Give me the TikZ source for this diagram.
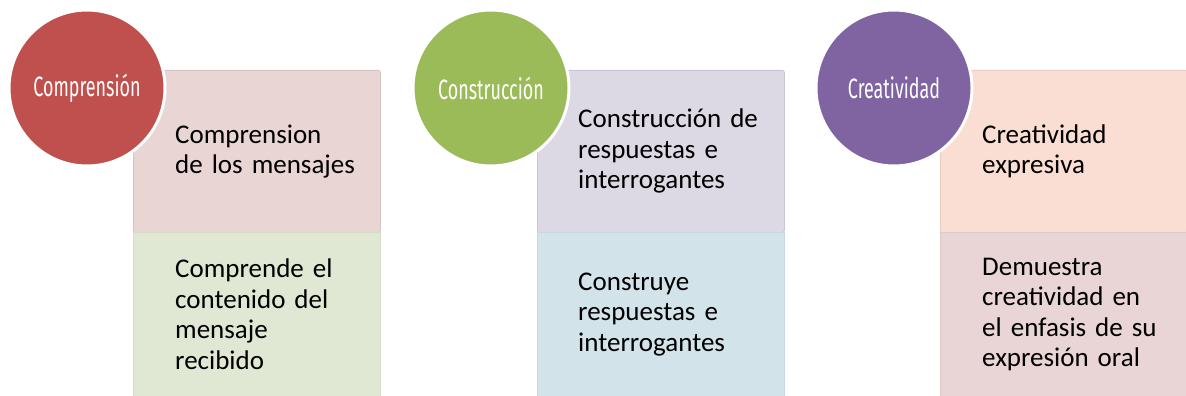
\documentclass[tikz,border=0pt]{standalone}
\usepackage{fontspec}
\setmainfont{Carlito}
\newfontfamily\headfont{Fira Sans}
\definecolor{cred}{HTML}{C0504D}
\definecolor{cgreen}{HTML}{9BBB59}
\definecolor{cpurple}{HTML}{8064A2}
\definecolor{boxA}{HTML}{E9D5D4}
\definecolor{boxB}{HTML}{E0E8D3}
\definecolor{boxC}{HTML}{DCD8E4}
\definecolor{boxD}{HTML}{D3E3EA}
\definecolor{boxE}{HTML}{FBDED3}
\definecolor{boxF}{HTML}{E9D5D6}
\begin{document}
\begin{tikzpicture}[x=1pt,y=-1pt,
  panel/.style={rectangle, anchor=north west, minimum width=247pt, inner sep=0pt, line width=0.8pt},
  bodytext/.style={anchor=west, align=left, inner sep=0pt, text width=230pt,
    font=\fontsize{27}{30.5}\selectfont, text=black},
  headcircle/.style={circle, minimum size=156pt, inner sep=0pt, draw=white, line width=3pt, text=white,
    font=\headfont\fontsize{28}{30}\selectfont}]
\useasboundingbox (0,0) rectangle (1186,396);
\fill[white] (0,0) rectangle (1186,396);
% group 1
\node[panel, minimum height=162pt, fill=boxA, draw=boxA!92!black, rounded corners=2pt] (t1) at (133,70) {};
\node[panel, minimum height=164pt, fill=boxB, draw=boxB!95!black] (b1) at (133,232) {};
\node[bodytext] (t1txt) at ([xshift=42pt]t1.west) {Comprension\\de los mensajes};
\node[bodytext] (b1txt) at ([xshift=42pt]b1.west) {Comprende el\\contenido del\\mensaje\\recibido};
\node[headcircle, fill=cred] (c1) at (87,88) {\scalebox{0.64}[1]{Comprensión}};
% group 2
\node[panel, minimum height=162pt, fill=boxC, draw=boxC!92!black, rounded corners=2pt] (t2) at (537,70) {};
\node[panel, minimum height=164pt, fill=boxD, draw=boxD!95!black] (b2) at (537,232) {};
\node[bodytext] (t2txt) at ([xshift=41pt]t2.west) {Construcción de\\respuestas e\\interrogantes};
\node[bodytext] (b2txt) at ([xshift=41pt]b2.west) {Construye\\respuestas e\\interrogantes};
\node[headcircle, fill=cgreen] (c2) at (491,88) {\scalebox{0.64}[1]{Construcción}};
% group 3
\node[panel, minimum height=162pt, fill=boxE, draw=boxE!92!black, rounded corners=2pt] (t3) at (940,70) {};
\node[panel, minimum height=164pt, fill=boxF, draw=boxF!95!black] (b3) at (940,232) {};
\node[bodytext] (t3txt) at ([xshift=42pt]t3.west) {Creatividad\\expresiva};
\node[bodytext] (b3txt) at ([xshift=42pt]b3.west) {Demuestra\\creatividad en\\el enfasis de su\\expresión oral};
\node[headcircle, fill=cpurple] (c3) at (894,88) {\scalebox{0.64}[1]{Creatividad}};
\end{tikzpicture}
\end{document}
